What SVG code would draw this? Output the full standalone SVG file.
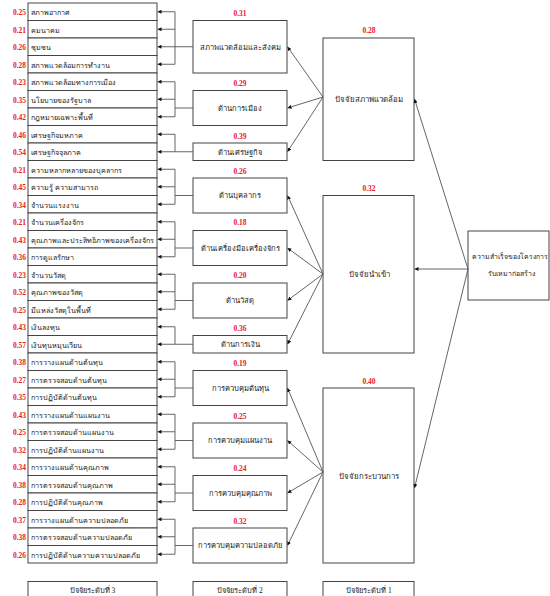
<svg xmlns="http://www.w3.org/2000/svg" width="550" height="596" viewBox="0 0 550 596">
<style>
.bx{fill:#fff;stroke:#444;stroke-width:1}
.t{font-family:"Liberation Serif","DejaVu Serif",serif;font-size:7.2px;fill:#222}
.tc{font-family:"Liberation Serif","DejaVu Serif",serif;font-size:7.6px;fill:#222;text-anchor:middle}
.t1{font-family:"Liberation Serif","DejaVu Serif",serif;font-size:7.8px;fill:#222;text-anchor:middle}
.tr{font-family:"Liberation Serif","DejaVu Serif",serif;font-size:6.9px;fill:#222;text-anchor:middle}
.tl{font-family:"Liberation Serif","DejaVu Serif",serif;font-size:7.5px;fill:#222;text-anchor:middle}
.v{font-family:"Liberation Serif",serif;font-size:7.5px;font-weight:bold;fill:#e8202a;text-anchor:end}
.vc{font-family:"Liberation Serif",serif;font-size:7.5px;font-weight:bold;fill:#e8202a;text-anchor:middle}
.ln{fill:none;stroke:#555;stroke-width:0.9}
</style>
<defs>
<marker id="ah" viewBox="0 0 6 6" refX="6" refY="3" markerWidth="4" markerHeight="4" orient="auto" markerUnits="userSpaceOnUse"><path d="M0,0 L6,3 L0,6 z" fill="#111"/></marker>
</defs>

<g id="level3">
<g id="r0"><rect class="bx" x="28" y="3" width="129" height="17.5"/><text class="v" x="26" y="15">0.25</text><text class="t" x="31" y="15">สภาพอากาศ</text></g>
<g id="r1"><rect class="bx" x="28" y="20.5" width="129" height="17.5"/><text class="v" x="26" y="32.5">0.21</text><text class="t" x="31" y="32.5">คมนาคม</text></g>
<g id="r2"><rect class="bx" x="28" y="38" width="129" height="17.5"/><text class="v" x="26" y="50">0.26</text><text class="t" x="31" y="50">ชุมชน</text></g>
<g id="r3"><rect class="bx" x="28" y="55.5" width="129" height="17.5"/><text class="v" x="26" y="67.5">0.28</text><text class="t" x="31" y="67.5">สภาพแวดล้อมการทำงาน</text></g>
<g id="r4"><rect class="bx" x="28" y="73" width="129" height="17.5"/><text class="v" x="26" y="85">0.23</text><text class="t" x="31" y="85">สภาพแวดล้อมทางการเมือง</text></g>
<g id="r5"><rect class="bx" x="28" y="90.5" width="129" height="17.5"/><text class="v" x="26" y="102.5">0.35</text><text class="t" x="31" y="102.5">นโยบายของรัฐบาล</text></g>
<g id="r6"><rect class="bx" x="28" y="108" width="129" height="17.5"/><text class="v" x="26" y="120">0.42</text><text class="t" x="31" y="120">กฎหมายเฉพาะพื้นที่</text></g>
<g id="r7"><rect class="bx" x="28" y="125.5" width="129" height="17.5"/><text class="v" x="26" y="137.5">0.46</text><text class="t" x="31" y="137.5">เศรษฐกิจมหภาค</text></g>
<g id="r8"><rect class="bx" x="28" y="143" width="129" height="17.5"/><text class="v" x="26" y="155">0.54</text><text class="t" x="31" y="155">เศรษฐกิจจุลภาค</text></g>
<g id="r9"><rect class="bx" x="28" y="160.5" width="129" height="17.5"/><text class="v" x="26" y="172.5">0.21</text><text class="t" x="31" y="172.5">ความหลากหลายของบุคลากร</text></g>
<g id="r10"><rect class="bx" x="28" y="178" width="129" height="17.5"/><text class="v" x="26" y="190">0.45</text><text class="t" x="31" y="190">ความรู้ ความสามารถ</text></g>
<g id="r11"><rect class="bx" x="28" y="195.5" width="129" height="17.5"/><text class="v" x="26" y="207.5">0.34</text><text class="t" x="31" y="207.5">จำนวนแรงงาน</text></g>
<g id="r12"><rect class="bx" x="28" y="213" width="129" height="17.5"/><text class="v" x="26" y="225">0.21</text><text class="t" x="31" y="225">จำนวนเครื่องจักร</text></g>
<g id="r13"><rect class="bx" x="28" y="230.5" width="129" height="17.5"/><text class="v" x="26" y="242.5">0.43</text><text class="t" x="31" y="242.5">คุณภาพและประสิทธิภาพของเครื่องจักร</text></g>
<g id="r14"><rect class="bx" x="28" y="248" width="129" height="17.5"/><text class="v" x="26" y="260">0.36</text><text class="t" x="31" y="260">การดูแลรักษา</text></g>
<g id="r15"><rect class="bx" x="28" y="265.5" width="129" height="17.5"/><text class="v" x="26" y="277.5">0.23</text><text class="t" x="31" y="277.5">จำนวนวัสดุ</text></g>
<g id="r16"><rect class="bx" x="28" y="283" width="129" height="17.5"/><text class="v" x="26" y="295">0.52</text><text class="t" x="31" y="295">คุณภาพของวัสดุ</text></g>
<g id="r17"><rect class="bx" x="28" y="300.5" width="129" height="17.5"/><text class="v" x="26" y="312.5">0.25</text><text class="t" x="31" y="312.5">มีแหล่งวัสดุในพื้นที่</text></g>
<g id="r18"><rect class="bx" x="28" y="318" width="129" height="17.5"/><text class="v" x="26" y="330">0.43</text><text class="t" x="31" y="330">เงินลงทุน</text></g>
<g id="r19"><rect class="bx" x="28" y="335.5" width="129" height="17.5"/><text class="v" x="26" y="347.5">0.57</text><text class="t" x="31" y="347.5">เงินทุนหมุนเวียน</text></g>
<g id="r20"><rect class="bx" x="28" y="353" width="129" height="17.5"/><text class="v" x="26" y="365">0.38</text><text class="t" x="31" y="365">การวางแผนด้านต้นทุน</text></g>
<g id="r21"><rect class="bx" x="28" y="370.5" width="129" height="17.5"/><text class="v" x="26" y="382.5">0.27</text><text class="t" x="31" y="382.5">การตรวจสอบด้านต้นทุน</text></g>
<g id="r22"><rect class="bx" x="28" y="388" width="129" height="17.5"/><text class="v" x="26" y="400">0.35</text><text class="t" x="31" y="400">การปฏิบัติด้านต้นทุน</text></g>
<g id="r23"><rect class="bx" x="28" y="405.5" width="129" height="17.5"/><text class="v" x="26" y="417.5">0.43</text><text class="t" x="31" y="417.5">การวางแผนด้านแผนงาน</text></g>
<g id="r24"><rect class="bx" x="28" y="423" width="129" height="17.5"/><text class="v" x="26" y="435">0.25</text><text class="t" x="31" y="435">การตรวจสอบด้านแผนงาน</text></g>
<g id="r25"><rect class="bx" x="28" y="440.5" width="129" height="17.5"/><text class="v" x="26" y="452.5">0.32</text><text class="t" x="31" y="452.5">การปฏิบัติด้านแผนงาน</text></g>
<g id="r26"><rect class="bx" x="28" y="458" width="129" height="17.5"/><text class="v" x="26" y="470">0.34</text><text class="t" x="31" y="470">การวางแผนด้านคุณภาพ</text></g>
<g id="r27"><rect class="bx" x="28" y="475.5" width="129" height="17.5"/><text class="v" x="26" y="487.5">0.38</text><text class="t" x="31" y="487.5">การตรวจสอบด้านคุณภาพ</text></g>
<g id="r28"><rect class="bx" x="28" y="493" width="129" height="17.5"/><text class="v" x="26" y="505">0.28</text><text class="t" x="31" y="505">การปฏิบัติด้านคุณภาพ</text></g>
<g id="r29"><rect class="bx" x="28" y="510.5" width="129" height="17.5"/><text class="v" x="26" y="522.5">0.37</text><text class="t" x="31" y="522.5">การวางแผนด้านความปลอดภัย</text></g>
<g id="r30"><rect class="bx" x="28" y="528" width="129" height="17.5"/><text class="v" x="26" y="540">0.38</text><text class="t" x="31" y="540">การตรวจสอบด้านความปลอดภัย</text></g>
<g id="r31"><rect class="bx" x="28" y="545.5" width="129" height="17.5"/><text class="v" x="26" y="557.5">0.26</text><text class="t" x="31" y="557.5">การปฏิบัติด้านความความปลอดภัย</text></g>
</g>

<g id="level2">
<g id="m1"><text class="vc" x="240" y="16">0.31</text><rect class="bx" x="193" y="20.5" width="94" height="52.5"/><text class="tc" x="240" y="49.5">สภาพแวดล้อมและสังคม</text></g>
<g id="m2"><text class="vc" x="240" y="86">0.29</text><rect class="bx" x="193" y="90.5" width="94" height="35"/><text class="tc" x="240" y="110.5">ด้านการเมือง</text></g>
<g id="m3"><text class="vc" x="240" y="139">0.39</text><rect class="bx" x="193" y="143" width="94" height="17.5"/><text class="tc" x="240" y="154.5">ด้านเศรษฐกิจ</text></g>
<g id="m4"><text class="vc" x="240" y="174">0.26</text><rect class="bx" x="193" y="178" width="94" height="35"/><text class="tc" x="240" y="198">ด้านบุคลากร</text></g>
<g id="m5"><text class="vc" x="240" y="225">0.18</text><rect class="bx" x="193" y="230.5" width="94" height="35"/><text class="tc" x="240" y="250.5">ด้านเครื่องมือเครื่องจักร</text></g>
<g id="m6"><text class="vc" x="240" y="278">0.20</text><rect class="bx" x="193" y="283" width="94" height="35"/><text class="tc" x="240" y="303">ด้านวัสดุ</text></g>
<g id="m7"><text class="vc" x="240" y="331">0.36</text><rect class="bx" x="193" y="335.5" width="94" height="17.5"/><text class="tc" x="240" y="347">ด้านการเงิน</text></g>
<g id="m8"><text class="vc" x="240" y="366">0.19</text><rect class="bx" x="193" y="370.5" width="94" height="35"/><text class="tc" x="240" y="390.5">การควบคุมต้นทุน</text></g>
<g id="m9"><text class="vc" x="240" y="419">0.25</text><rect class="bx" x="193" y="423" width="94" height="35"/><text class="tc" x="240" y="443">การควบคุมแผนงาน</text></g>
<g id="m10"><text class="vc" x="240" y="471">0.24</text><rect class="bx" x="193" y="475.5" width="94" height="35"/><text class="tc" x="240" y="495.5">การควบคุมคุณภาพ</text></g>
<g id="m11"><text class="vc" x="240" y="523.5">0.32</text><rect class="bx" x="193" y="528" width="94" height="35"/><text class="tc" x="240" y="548">การควบคุมความปลอดภัย</text></g>
</g>

<g id="level1">
<g id="f1"><text class="vc" x="369" y="33">0.28</text><rect class="bx" x="323" y="38" width="91" height="122.5"/><text class="t1" x="369" y="101.5">ปัจจัยสภาพแวดล้อม</text></g>
<g id="f2"><text class="vc" x="369" y="191">0.32</text><rect class="bx" x="323" y="195.5" width="91" height="157.5"/><text class="t1" x="369" y="276.5">ปัจจัยนำเข้า</text></g>
<g id="f3"><text class="vc" x="369" y="383.5">0.40</text><rect class="bx" x="323" y="388" width="91" height="175"/><text class="t1" x="369" y="478.5">ปัจจัยกระบวนการ</text></g>
</g>

<g id="root"><rect class="bx" x="468" y="231" width="81" height="69"/><text class="tr" x="510" y="258.5">ความสำเร็จของโครงการ</text><text class="tr" x="511" y="276">รับเหมาก่อสร้าง</text></g>

<g id="legend">
<g id="lg3"><rect class="bx" x="28" y="581.5" width="129" height="20"/><text class="tl" x="92.5" y="592.5">ปัจจัยระดับที่ 3</text></g>
<g id="lg2"><rect class="bx" x="193" y="581.5" width="94" height="20"/><text class="tl" x="240" y="592.5">ปัจจัยระดับที่ 2</text></g>
<g id="lg1"><rect class="bx" x="323" y="581.5" width="91" height="20"/><text class="tl" x="369" y="592.5">ปัจจัยระดับที่ 1</text></g>
</g>

<g id="connectors">
<path class="ln" d="M193,46.75H175M175,11.75V64.25"/>
<path class="ln" d="M175,11.75H157.5" marker-end="url(#ah)"/><path class="ln" d="M175,29.25H157.5" marker-end="url(#ah)"/><path class="ln" d="M175,46.75H157.5" marker-end="url(#ah)"/><path class="ln" d="M175,64.25H157.5" marker-end="url(#ah)"/>
<path class="ln" d="M193,108H175M175,81.75V116.75"/>
<path class="ln" d="M175,81.75H157.5" marker-end="url(#ah)"/><path class="ln" d="M175,99.25H157.5" marker-end="url(#ah)"/><path class="ln" d="M175,116.75H157.5" marker-end="url(#ah)"/>
<path class="ln" d="M193,151.75H175M175,134.25V151.75"/>
<path class="ln" d="M175,134.25H157.5" marker-end="url(#ah)"/><path class="ln" d="M175,151.75H157.5" marker-end="url(#ah)"/>
<path class="ln" d="M193,195.5H175M175,169.25V204.25"/>
<path class="ln" d="M175,169.25H157.5" marker-end="url(#ah)"/><path class="ln" d="M175,186.75H157.5" marker-end="url(#ah)"/><path class="ln" d="M175,204.25H157.5" marker-end="url(#ah)"/>
<path class="ln" d="M193,248H175M175,221.75V256.75"/>
<path class="ln" d="M175,221.75H157.5" marker-end="url(#ah)"/><path class="ln" d="M175,239.25H157.5" marker-end="url(#ah)"/><path class="ln" d="M175,256.75H157.5" marker-end="url(#ah)"/>
<path class="ln" d="M193,300.5H175M175,274.25V309.25"/>
<path class="ln" d="M175,274.25H157.5" marker-end="url(#ah)"/><path class="ln" d="M175,291.75H157.5" marker-end="url(#ah)"/><path class="ln" d="M175,309.25H157.5" marker-end="url(#ah)"/>
<path class="ln" d="M193,344.25H175M175,326.75V344.25"/>
<path class="ln" d="M175,326.75H157.5" marker-end="url(#ah)"/><path class="ln" d="M175,344.25H157.5" marker-end="url(#ah)"/>
<path class="ln" d="M193,388H175M175,361.75V396.75"/>
<path class="ln" d="M175,361.75H157.5" marker-end="url(#ah)"/><path class="ln" d="M175,379.25H157.5" marker-end="url(#ah)"/><path class="ln" d="M175,396.75H157.5" marker-end="url(#ah)"/>
<path class="ln" d="M193,440.5H175M175,414.25V449.25"/>
<path class="ln" d="M175,414.25H157.5" marker-end="url(#ah)"/><path class="ln" d="M175,431.75H157.5" marker-end="url(#ah)"/><path class="ln" d="M175,449.25H157.5" marker-end="url(#ah)"/>
<path class="ln" d="M193,493H175M175,466.75V501.75"/>
<path class="ln" d="M175,466.75H157.5" marker-end="url(#ah)"/><path class="ln" d="M175,484.25H157.5" marker-end="url(#ah)"/><path class="ln" d="M175,501.75H157.5" marker-end="url(#ah)"/>
<path class="ln" d="M193,545.5H175M175,519.25V554.25"/>
<path class="ln" d="M175,519.25H157.5" marker-end="url(#ah)"/><path class="ln" d="M175,536.75H157.5" marker-end="url(#ah)"/><path class="ln" d="M175,554.25H157.5" marker-end="url(#ah)"/>

<path class="ln" d="M323,97L287.5,46.75" marker-end="url(#ah)"/>
<path class="ln" d="M323,97L287.5,108" marker-end="url(#ah)"/>
<path class="ln" d="M323,97L287.5,151.75" marker-end="url(#ah)"/>
<path class="ln" d="M323,274L287.5,195.5" marker-end="url(#ah)"/>
<path class="ln" d="M323,274L287.5,248" marker-end="url(#ah)"/>
<path class="ln" d="M323,274L287.5,300.5" marker-end="url(#ah)"/>
<path class="ln" d="M323,274L287.5,344.25" marker-end="url(#ah)"/>
<path class="ln" d="M323,472L287.5,388" marker-end="url(#ah)"/>
<path class="ln" d="M323,472L287.5,440.5" marker-end="url(#ah)"/>
<path class="ln" d="M323,472L287.5,493" marker-end="url(#ah)"/>
<path class="ln" d="M323,472L287.5,545.5" marker-end="url(#ah)"/>

<path class="ln" d="M468,269L414.5,99" marker-end="url(#ah)"/>
<path class="ln" d="M468,269H414.5" marker-end="url(#ah)"/>
<path class="ln" d="M468,269L414.5,488" marker-end="url(#ah)"/>
</g>
</svg>
